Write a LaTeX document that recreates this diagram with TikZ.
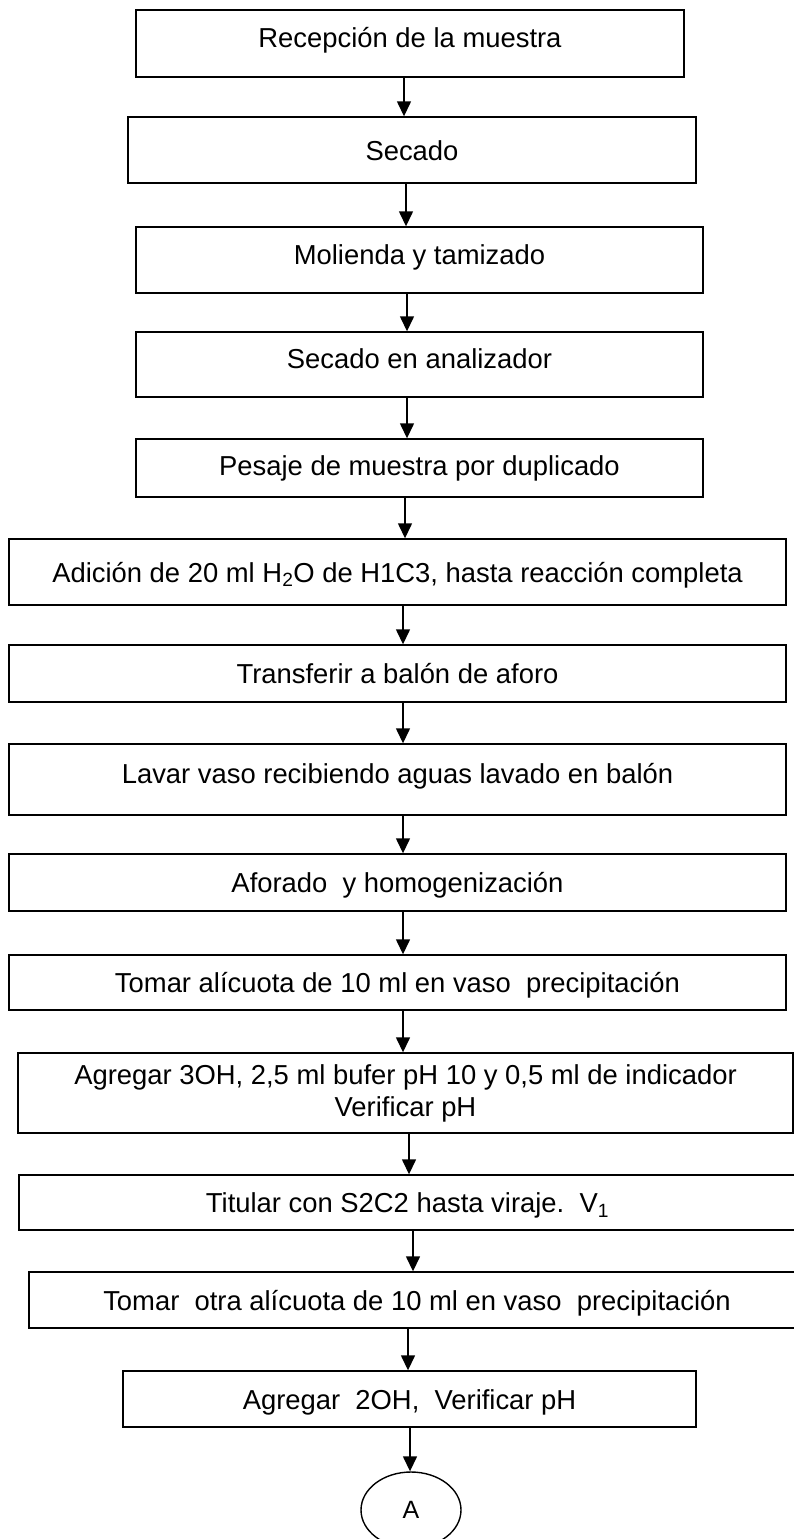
\documentclass[tikz,border=0pt]{standalone}
\usepackage{fontspec}
\setmainfont{Liberation Sans}
\usetikzlibrary{arrows.meta,shapes.geometric}
\tikzset{
  proc/.style={draw, line width=1.4pt, inner sep=0pt, align=center,
    text height=20pt, text depth=0pt,
    font=\fontsize{27.4}{32}\selectfont},
  proctwo/.style={proc, text height=, text depth=},
  conn/.style={ellipse, draw, line width=1.4pt, inner sep=0pt,
    minimum width=100pt, minimum height=76pt,
    font=\fontsize{25}{30}\selectfont},
  flow/.style={line width=1.4pt, -{Triangle[length=15pt,width=14pt]}}
}
\begin{document}
\begin{tikzpicture}[x=1pt, y=-1pt]
\useasboundingbox (0,0) rectangle (794,1539);

% process steps
\node[proc, minimum width=548pt, minimum height=67pt] (b1) at (410,43.5)
  {\raisebox{6pt}{Recepción de la muestra}};
\node[proc, minimum width=568pt, minimum height=66pt] (b2) at (412,150) {Secado};
\node[proc, minimum width=567pt, minimum height=66pt] (b3) at (419.5,260)
  {\raisebox{6pt}{Molienda y tamizado}};
\node[proc, minimum width=567pt, minimum height=65pt] (b4) at (419.5,364.5)
  {\raisebox{6pt}{Secado en analizador}};
\node[proc, minimum width=567pt, minimum height=58pt] (b5) at (419.5,468)
  {\raisebox{3pt}{Pesaje de muestra por duplicado}};
\node[proc, minimum width=777pt, minimum height=66pt] (b6) at (397.5,572)
  {Adición de 20 ml H\textsubscript{2}O de H1C3, hasta reacción completa};
\node[proc, minimum width=777pt, minimum height=57pt] (b7) at (397.5,673.5)
  {Transferir a balón de aforo};
\node[proc, minimum width=777pt, minimum height=71pt] (b8) at (397.5,779.5)
  {\raisebox{6pt}{Lavar vaso recibiendo aguas lavado en balón}};
\node[proc, minimum width=777pt, minimum height=57pt] (b9) at (397.5,882.5)
  {Aforado\ \ y homogenización};
\node[proc, minimum width=777pt, minimum height=55pt] (b10) at (397.5,982.5)
  {Tomar alícuota de 10 ml en vaso\ \ precipitación};
\node[proctwo, minimum width=775pt, minimum height=80pt] (b11) at (405.5,1093)
  {Agregar 3OH, 2,5 ml bufer pH 10 y 0,5 ml de indicador\\Verificar pH};
\node[proc, minimum width=777pt, minimum height=55pt] (b12) at (407.5,1202.5)
  {Titular con S2C2 hasta viraje.\ \ V\textsubscript{1}};
\node[proc, minimum width=776pt, minimum height=56pt] (b13) at (417,1300)
  {Tomar\ \ otra alícuota de 10 ml en vaso\ \ precipitación};
\node[proc, minimum width=573pt, minimum height=56pt] (b14) at (409.5,1399)
  {Agregar\ \ 2OH,\ \ Verificar pH};
\node[conn] (A) at (411,1510) {A};

% columns of the connectors
\coordinate (c1) at (404,0);
\coordinate (c2) at (406,0);
\coordinate (c3) at (407,0);
\coordinate (c4) at (407,0);
\coordinate (c5) at (405,0);
\coordinate (c6) at (403,0);
\coordinate (c11) at (409,0);
\coordinate (c12) at (413,0);
\coordinate (c13) at (408,0);
\coordinate (c14) at (410,0);

\draw[flow] (b1.south -| c1) -- (b2.north -| c1);
\draw[flow] (b2.south -| c2) -- (b3.north -| c2);
\draw[flow] (b3.south -| c3) -- (b4.north -| c3);
\draw[flow] (b4.south -| c4) -- (b5.north -| c4);
\draw[flow] (b5.south -| c5) -- (b6.north -| c5);
\draw[flow] (b6.south -| c6) -- (b7.north -| c6);
\draw[flow] (b7.south -| c6) -- (b8.north -| c6);
\draw[flow] (b8.south -| c6) -- (b9.north -| c6);
\draw[flow] (b9.south -| c6) -- (b10.north -| c6);
\draw[flow] (b10.south -| c6) -- (b11.north -| c6);
\draw[flow] (b11.south -| c11) -- (b12.north -| c11);
\draw[flow] (b12.south -| c12) -- (b13.north -| c12);
\draw[flow] (b13.south -| c13) -- (b14.north -| c13);
\draw[flow] (b14.south -| c14) -- (A.north -| c14);
\end{tikzpicture}
\end{document}
